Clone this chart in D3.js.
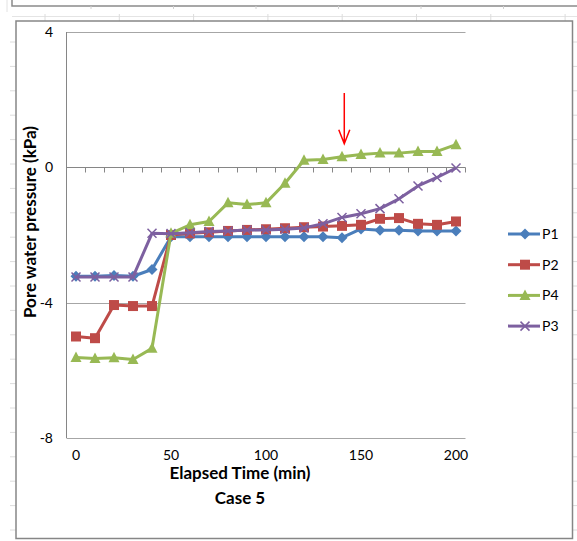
<!DOCTYPE html>
<html>
<head>
<meta charset="utf-8">
<script src="https://cdn.jsdelivr.net/npm/d3@7"></script>
<style>
  body { margin: 0; background: #fff; }
  svg { display: block; }
  text { font-family: Lato, "Noto Sans", sans-serif; fill: #000; }
</style>
</head>
<body>
<svg id="chart" width="577" height="541"></svg>
<script>
// elapsed time (min), one category per 10 minutes
const times = [0, 10, 20, 30, 40, 50, 60, 70, 80, 90, 100, 110, 120, 130, 140, 150, 160, 170, 180, 190, 200];
const xTickLabels = [0, 50, 100, 150, 200];
const yTickValues = [4, 0, -4, -8];

// pore water pressure (kPa)
const p1 = [-3.22, -3.22, -3.2, -3.22, -3.02, -2.05, -2.05, -2.05, -2.05, -2.05, -2.05, -2.05, -2.05, -2.05, -2.08, -1.82, -1.86, -1.86, -1.88, -1.88, -1.88];
const p2 = [-5.0, -5.05, -4.07, -4.1, -4.1, -2.0, -1.95, -1.92, -1.88, -1.85, -1.83, -1.8, -1.77, -1.75, -1.73, -1.7, -1.52, -1.5, -1.67, -1.7, -1.6];
const p4 = [-5.62, -5.65, -5.63, -5.68, -5.35, -1.95, -1.7, -1.6, -1.05, -1.1, -1.05, -0.47, 0.21, 0.23, 0.31, 0.38, 0.42, 0.42, 0.47, 0.47, 0.67];
const p3 = [-3.24, -3.24, -3.24, -3.24, -1.95, -1.96, -1.93, -1.9, -1.88, -1.85, -1.85, -1.83, -1.79, -1.67, -1.48, -1.37, -1.22, -0.93, -0.55, -0.3, -0.02];

const seriesNames = ['P1', 'P2', 'P4', 'P3'];
const seriesValues = [p1, p2, p4, p3];
const seriesColors = ['#4A7EBB', '#BE4B48', '#98B954', '#7D60A0'];
const seriesMarkers = ['diamond', 'square', 'triangle', 'x'];

// arrow annotation: category it sits over, pressure from/to
const arrowAt = 140;
const arrowFrom = 2.2;
const arrowTo = 0.7;

const svg = d3.select('#chart');

var scale =
{
    x: d3.scalePoint().domain(times).range([66.5, 465.5]).padding(0.5),
    y: d3.scaleLinear().domain([-8, 4]).range([438, 32])
};

// spreadsheet leftovers around the chart frame
const chrome = svg.append('g').attr('class', 'chrome');
chrome.append('rect').attr('x', 12).attr('y', -4).attr('width', 570).attr('height', 10)
    .attr('fill', 'none').attr('stroke', '#8a8a8a').attr('stroke-width', 1.5);
chrome.append('line').attr('x1', 7).attr('x2', 7).attr('y1', 0).attr('y2', 12)
    .attr('stroke', '#e2e2e2');
chrome.append('line').attr('x1', 12).attr('x2', 577).attr('y1', 16.5).attr('y2', 16.5)
    .attr('stroke', '#e4e4e4');
d3.range(45, 577, 74.3).forEach(function(x) {
    chrome.append('line').attr('x1', x).attr('x2', x).attr('y1', 14).attr('y2', 21).attr('stroke', '#dcdcdc');
});
d3.range(91, 577, 82.5).forEach(function(x) {
    chrome.append('line').attr('x1', x).attr('x2', x).attr('y1', 6).attr('y2', 9).attr('stroke', '#d0d0d0');
});
d3.range(42, 541, 24.4).forEach(function(y) {
    chrome.append('line').attr('x1', 10).attr('x2', 16).attr('y1', y).attr('y2', y).attr('stroke', '#dcdcdc');
    chrome.append('line').attr('x1', 572).attr('x2', 577).attr('y1', y).attr('y2', y).attr('stroke', '#dcdcdc');
});

// chart frame
svg.append('rect').attr('x', 16).attr('y', 21).attr('width', 556.5).attr('height', 517.5)
    .attr('fill', '#fff').attr('stroke', '#868686').attr('stroke-width', 1.5);

const [xLeft, xRight] = scale.x.range();
const step = scale.x.step();

// gridlines (the 0 line is the category axis)
svg.append('g').selectAll('line')
    .data(yTickValues.filter(v => v !== 0))
    .join('line')
    .attr('x1', xLeft).attr('x2', xRight)
    .attr('y1', d => Math.round(scale.y(d)) + 0.5).attr('y2', d => Math.round(scale.y(d)) + 0.5)
    .attr('stroke', '#a6a6a6').attr('stroke-width', 1);

// value axis
svg.append('line')
    .attr('x1', xLeft).attr('x2', xLeft)
    .attr('y1', scale.y(4)).attr('y2', scale.y(-8))
    .attr('stroke', '#868686').attr('stroke-width', 1);

svg.append('g').selectAll('text')
    .data(yTickValues)
    .join('text')
    .attr('x', 53).attr('y', d => scale.y(d))
    .attr('dy', '0.35em').attr('text-anchor', 'end')
    .attr('font-size', 14)
    .text(d => d);

// category axis crossing at 0, tick marks between categories
const y0 = Math.round(scale.y(0)) + 0.5;
svg.append('line')
    .attr('x1', xLeft).attr('x2', xRight).attr('y1', y0).attr('y2', y0)
    .attr('stroke', '#868686').attr('stroke-width', 1);
svg.append('g').selectAll('line')
    .data(d3.range(times.length + 1))
    .join('line')
    .attr('x1', i => xLeft + i * step).attr('x2', i => xLeft + i * step)
    .attr('y1', y0).attr('y2', y0 + 5)
    .attr('stroke', '#868686').attr('stroke-width', 1);

// its labels sit at the bottom of the plot
svg.append('g').selectAll('text')
    .data(xTickLabels)
    .join('text')
    .attr('x', d => scale.x(d)).attr('y', 455)
    .attr('dy', '0.35em').attr('text-anchor', 'middle')
    .attr('font-size', 14)
    .text(d => d);

// axis titles
svg.append('text')
    .attr('x', 240).attr('y', 473).attr('dy', '0.35em')
    .attr('text-anchor', 'middle').attr('font-size', 17).attr('font-weight', 'bold')
    .text('Elapsed Time (min)');
svg.append('text')
    .attr('x', 240).attr('y', 498).attr('dy', '0.35em')
    .attr('text-anchor', 'middle').attr('font-size', 17).attr('font-weight', 'bold')
    .text('Case 5');
svg.append('text')
    .attr('transform', 'translate(30,222) rotate(-90)')
    .attr('dy', '0.35em')
    .attr('text-anchor', 'middle').attr('font-size', 17).attr('font-weight', 'bold')
    .text('Pore water pressure (kPa)');

// marker shapes, drawn around 0,0
function markerPath(kind)
{
    if(kind === 'diamond') return 'M0,-5.5L5.5,0L0,5.5L-5.5,0Z';
    if(kind === 'square') return 'M-5,-5H5V5H-5Z';
    if(kind === 'triangle') return 'M0,-6L5.5,4.5H-5.5Z';
    return 'M-4.5,-4.5L4.5,4.5M4.5,-4.5L-4.5,4.5';
}

function drawMarker(sel, kind, color)
{
    if(kind === 'x')
    {
        sel.attr('fill', 'none').attr('stroke', color).attr('stroke-width', 1.5);
    }
    else
    {
        sel.attr('fill', color).attr('stroke', 'none');
    }
}

var lineGenerator = d3.line()
.x(function(d, i) {
    return scale.x(times[i]);
})
.y(function(d) {
    return scale.y(d);
});

seriesValues.forEach(function(values, s)
{
    const g = svg.append('g').attr('class', 'series-' + seriesNames[s]);

    g.append('path')
        .attr('d', lineGenerator(values))
        .attr('fill', 'none')
        .attr('stroke', seriesColors[s])
        .attr('stroke-width', 3)
        .attr('stroke-linejoin', 'round');

    g.selectAll('path.marker')
        .data(values)
        .join('path')
        .attr('class', 'marker')
        .attr('transform', (d, i) => `translate(${scale.x(times[i])},${scale.y(d)})`)
        .attr('d', markerPath(seriesMarkers[s]))
        .call(drawMarker, seriesMarkers[s], seriesColors[s]);
});

// legend
const legend = svg.append('g').attr('transform', 'translate(508,234)');
seriesNames.forEach(function(name, s)
{
    const row = legend.append('g').attr('transform', `translate(0,${s * 30.7})`);
    row.append('line').attr('x1', 0).attr('x2', 32).attr('y1', 0).attr('y2', 0)
        .attr('stroke', seriesColors[s]).attr('stroke-width', 3);
    row.append('path')
        .attr('transform', 'translate(17,0)')
        .attr('d', markerPath(seriesMarkers[s]))
        .call(drawMarker, seriesMarkers[s], seriesColors[s]);
    row.append('text').attr('x', 34).attr('y', 0).attr('dy', '0.35em')
        .attr('font-size', 14).text(name);
});

// red arrow pointing at the P4 curve (a touch right of the 140 category)
const ax = scale.x(arrowAt) + step * 0.12;
const ay1 = scale.y(arrowFrom);
const ay2 = scale.y(arrowTo);
svg.append('path')
    .attr('d', `M${ax},${ay1}V${ay2}M${ax - 5.5},${ay2 - 14}L${ax},${ay2}L${ax + 5.5},${ay2 - 14}`)
    .attr('fill', 'none').attr('stroke', '#FF0000').attr('stroke-width', 1.5);
</script>
</body>
</html>
